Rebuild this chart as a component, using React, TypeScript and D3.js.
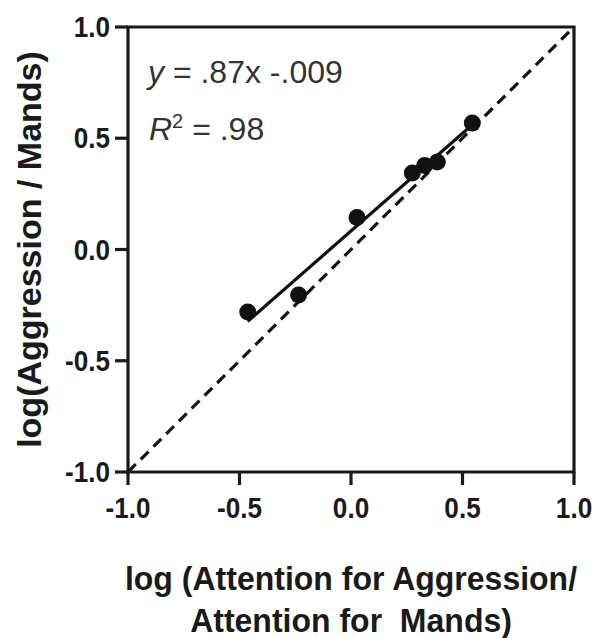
import React from "react";
import * as d3 from "d3";

const xValues = [-0.463, -0.235, 0.027, 0.275, 0.33, 0.387, 0.544];
const yValues = [-0.281, -0.204, 0.144, 0.344, 0.378, 0.393, 0.568];
const ticks = [-1.0, -0.5, 0.0, 0.5, 1.0];
const equationText = ".87x -.009";
const r2Text = " = .98";

const W = 595;
const H = 638;
const plot = { left: 128, right: 574, top: 27, bottom: 472 };
const font = "'Liberation Sans', Arial, Helvetica, sans-serif";
const sx = 0.87; // labels in the source are set in a condensed face

const App = () => {
  const x = d3.scaleLinear().domain([-1, 1]).range([plot.left, plot.right]);
  const y = d3.scaleLinear().domain([-1, 1]).range([plot.bottom, plot.top]);

  // least squares fit on the points
  const mx = d3.mean(xValues) as number;
  const my = d3.mean(yValues) as number;
  const sxy = d3.sum(xValues, (v, i) => (v - mx) * (yValues[i] - my));
  const sxx = d3.sum(xValues, (v) => (v - mx) * (v - mx));
  const slope = sxy / sxx;
  const icpt = my - slope * mx;
  const x0 = d3.min(xValues) as number;
  const x1 = d3.max(xValues) as number;

  const line = d3
    .line<[number, number]>()
    .x((d) => x(d[0]))
    .y((d) => y(d[1]));

  const fmt = (t: number) => t.toFixed(1);

  return (
    <svg
      width={W}
      height={H}
      style={{ position: "absolute", left: 0, top: 0, background: "#fff" }}
      fontFamily={font}
    >
      {/* identity line */}
      <path
        d={line([[-1, -1], [1, 1]]) as string}
        stroke="#111"
        strokeWidth={3.2}
        strokeDasharray="11,7"
        fill="none"
      />
      {/* regression */}
      <path
        d={line([[x0, slope * x0 + icpt], [x1, slope * x1 + icpt]]) as string}
        stroke="#111"
        strokeWidth={3.2}
        fill="none"
      />
      {xValues.map((v, i) => (
        <circle key={i} cx={x(v)} cy={y(yValues[i])} r={8.5} fill="#111" />
      ))}

      {/* frame */}
      <path
        d={`M${plot.left},${plot.top}H${plot.right}V${plot.bottom}H${plot.left}Z`}
        stroke="#1a1a1a"
        strokeWidth={3.2}
        fill="none"
      />

      {/* x axis */}
      {ticks.map((t) => (
        <g key={"x" + t} transform={`translate(${x(t)},${plot.bottom})`}>
          <line y2={13} stroke="#1a1a1a" strokeWidth={3.2} />
          <text
            y={46}
            transform={`scale(${sx},1)`}
            textAnchor="middle"
            fontSize={30}
            fontWeight="bold"
            fill="#1a1a1a"
          >
            {fmt(t)}
          </text>
        </g>
      ))}

      {/* y axis */}
      {ticks.map((t) => (
        <g key={"y" + t} transform={`translate(${plot.left},${y(t)})`}>
          <line x2={-13} stroke="#1a1a1a" strokeWidth={3.2} />
          <text
            x={-18 / sx}
            y={10}
            transform={`scale(${sx},1)`}
            textAnchor="end"
            fontSize={30}
            fontWeight="bold"
            fill="#1a1a1a"
          >
            {fmt(t)}
          </text>
        </g>
      ))}

      {/* equation */}
      <text x={148} y={83} fontSize={32} fill="#333">
        <tspan fontStyle="italic">y</tspan>
        <tspan> = {equationText}</tspan>
      </text>
      <text x={149} y={140} fontSize={32} fill="#333">
        <tspan fontStyle="italic">R</tspan>
        <tspan dy={-12} fontSize={20}>2</tspan>
        <tspan dy={12}>{r2Text}</tspan>
      </text>

      {/* axis titles */}
      <g transform="translate(351,0)">
        <text
          y={590}
          transform="scale(0.97,1)"
          textAnchor="middle"
          fontSize={33}
          fontWeight="bold"
          fill="#1a1a1a"
        >
          log (Attention for Aggression/
        </text>
        <text
          y={632}
          transform="scale(0.97,1)"
          textAnchor="middle"
          fontSize={33}
          fontWeight="bold"
          fill="#1a1a1a"
          style={{ whiteSpace: "pre" }}
        >
          {"Attention for  Mands)"}
        </text>
      </g>
      <text
        transform={`translate(41,${(plot.top + plot.bottom) / 2}) rotate(-90)`}
        textAnchor="middle"
        fontSize={34}
        fontWeight="bold"
        fill="#1a1a1a"
      >
        log(Aggression / Mands)
      </text>
    </svg>
  );
};

export default App;
